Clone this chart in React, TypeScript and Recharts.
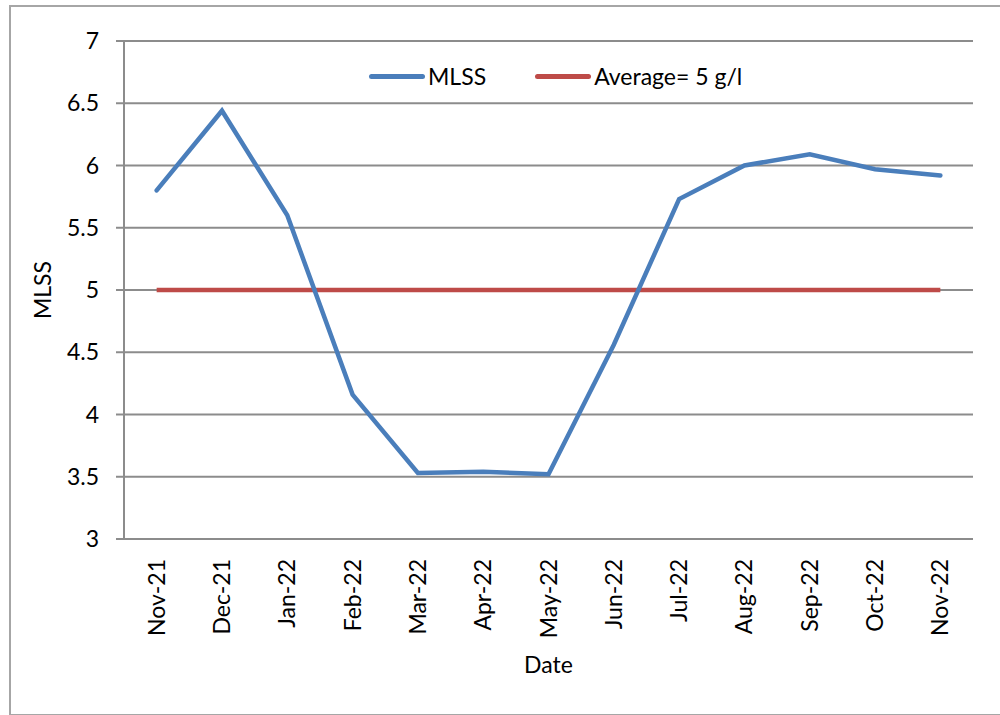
import { LineChart, Line, XAxis, YAxis, CartesianGrid } from "recharts";

const MONTHS = ["Nov-21", "Dec-21", "Jan-22", "Feb-22", "Mar-22", "Apr-22", "May-22", "Jun-22", "Jul-22", "Aug-22", "Sep-22", "Oct-22", "Nov-22"];
const MLSS = [5.8, 6.44, 5.6, 4.16, 3.53, 3.54, 3.52, 4.56, 5.73, 6.0, 6.09, 5.97, 5.92];
const AVERAGE = [5, 5, 5, 5, 5, 5, 5, 5, 5, 5, 5, 5, 5];
const Y_TICKS = [3, 3.5, 4, 4.5, 5, 5.5, 6, 6.5, 7];

const BLUE = "#4a7ebb";
const RED = "#be4b48";
const GRID = "#8c8c8c";
const FONT = "Lato, 'Open Sans', sans-serif";

const data = MONTHS.map((month, i) => ({ month, mlss: MLSS[i], avg: AVERAGE[i] }));

const LEGEND_ITEMS = [
  { label: "MLSS", color: BLUE },
  { label: "Average= 5 g/l", color: RED },
];

const MonthTick = ({ x, y, payload }: any) => {
  const ty = y + 18;
  return (
    <text x={x} y={ty} transform={`rotate(-90 ${x} ${ty})`} textAnchor="end" dy="0.35em" fontSize={23} fill="#000" fontFamily={FONT}>
      {payload.value}
    </text>
  );
};

// legend sits outside the svg so it doesn't eat into the plot area
const LegendBox = () => (
  <div style={{ position: "absolute", top: 60, left: 369, display: "flex", alignItems: "center", fontFamily: FONT, fontSize: 23, lineHeight: "32px", color: "#000" }}>
    {LEGEND_ITEMS.map((item, i) => (
      <div key={item.label} style={{ display: "flex", alignItems: "center", marginLeft: i ? 49 : 0 }}>
        <span style={{ display: "inline-block", width: 56, height: 5, borderRadius: 3, background: item.color, marginRight: 3 }} />
        <span>{item.label}</span>
      </div>
    ))}
  </div>
);

const App = () => (
  <div style={{ position: "absolute", left: 0, top: 0, width: 1000, height: 715, overflow: "hidden", background: "#fff" }}>
    <div style={{ position: "absolute", left: 9, top: 5, width: 1000, height: 707, border: "2px solid #a6a6a6" }} />
    <LineChart width={1000} height={715} data={data} margin={{ top: 41, right: 27, left: 0, bottom: 0 }}>
      <CartesianGrid vertical={false} stroke={GRID} strokeWidth={2} />
      <XAxis
        dataKey="month"
        scale="band"
        height={176}
        tickSize={0}
        tickLine={false}
        interval={0}
        axisLine={{ stroke: GRID, strokeWidth: 2 }}
        tick={<MonthTick />}
        label={{
          content: ({ viewBox }: any) => (
            <text x={viewBox.x + viewBox.width / 2} y={664} textAnchor="middle" dominantBaseline="central" fontSize={23} fill="#000" fontFamily={FONT}>
              Date
            </text>
          ),
        }}
      />
      <YAxis
        domain={[3, 7]}
        ticks={Y_TICKS}
        width={124}
        tickSize={8}
        tickMargin={17}
        axisLine={{ stroke: GRID, strokeWidth: 2 }}
        tickLine={{ stroke: GRID, strokeWidth: 2 }}
        tick={{ fill: "#000", fontSize: 23, fontFamily: FONT }}
        label={{
          content: ({ viewBox }: any) => {
            const cx = viewBox.x + 42;
            const cy = viewBox.y + viewBox.height / 2;
            return (
              <text x={cx} y={cy} transform={`rotate(-90 ${cx} ${cy})`} textAnchor="middle" dominantBaseline="central" fontSize={23} fill="#000" fontFamily={FONT}>
                MLSS
              </text>
            );
          },
        }}
      />
      <Line dataKey="avg" name="Average= 5 g/l" stroke={RED} strokeWidth={4.5} dot={false} isAnimationActive={false} />
      <Line dataKey="mlss" name="MLSS" stroke={BLUE} strokeWidth={4.5} strokeLinecap="round" dot={false} isAnimationActive={false} />
    </LineChart>
    <LegendBox />
  </div>
);

export default App;
